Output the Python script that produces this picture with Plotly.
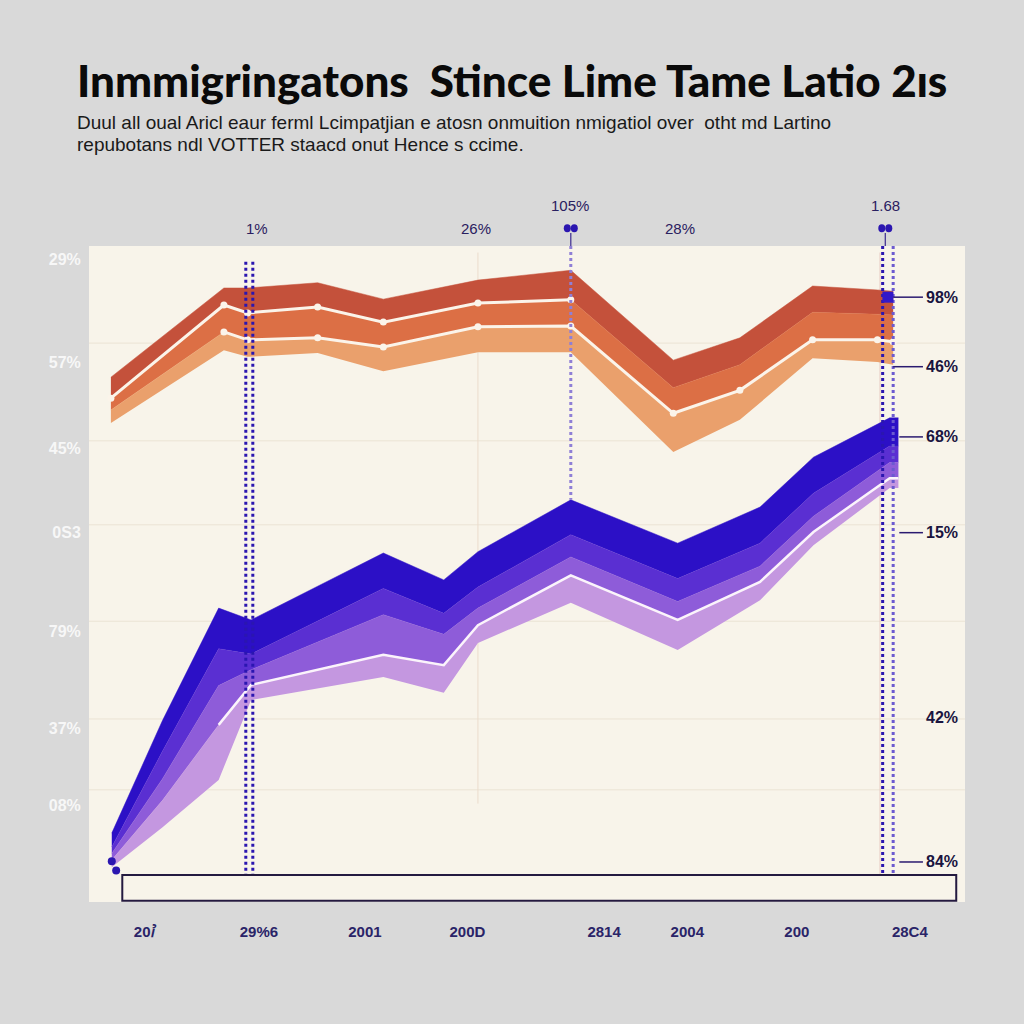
import plotly.graph_objects as go

# ---------------- data ----------------
title_text = "Inmmigringatons  Stince Lime Tame Latio 2ɪs"
subtitle_1 = "Duul all oual Aricl eaur ferml Lcimpatjian e atosn onmuition nmigatiol over  otht md Lartino"
subtitle_2 = "repubotans ndl VOTTER staacd onut Hence s ccime."

y_tick_vals = [98.0, 82.3, 69.1, 56.3, 41.3, 26.5, 14.8]
y_tick_text = ["29%", "57%", "45%", "0S3", "79%", "37%", "08%"]
grid_y = [85.2, 70.3, 57.5, 42.8, 27.9, 17.1]

x_tick_vals = [6.3, 19.4, 31.5, 43.2, 58.8, 68.3, 80.8, 93.7]
x_tick_text = ["20ꞽ", "29%6", "2001", "200D", "2814", "2004", "200", "28C4"]

# orange group
ox = [2.5, 15.4, 18.1, 26.1, 33.6, 44.4, 55.0, 66.7, 74.3, 82.6, 90.0, 91.8]
o_top = [80.0, 93.6, 93.6, 94.4, 91.9, 94.8, 96.3, 82.6, 86.0, 93.9, 93.3, 93.1]
o_b1 = [76.8, 91.0, 89.8, 90.7, 88.4, 91.3, 91.8, 78.4, 81.9, 89.9, 89.6, 89.5]
o_b2 = [75.0, 86.9, 85.7, 86.0, 84.6, 87.7, 87.8, 74.5, 78.0, 85.7, 85.7, 85.4]
o_bot = [73.0, 84.1, 83.1, 83.7, 80.9, 83.8, 83.8, 68.6, 73.5, 82.9, 82.3, 81.9]

# purple group
px_ = [2.6, 8.4, 14.8, 18.5, 33.6, 40.5, 44.4, 55.0, 67.2, 76.6, 82.7, 91.4, 92.4]
p_top = [10.5, 27.7, 44.8, 43.0, 53.2, 49.1, 53.4, 61.3, 54.7, 60.2, 67.8, 73.8, 73.8]
p_b1 = [8.4, 23.0, 38.6, 37.8, 47.8, 44.0, 48.0, 56.0, 49.3, 54.7, 62.3, 69.5, 69.5]
p_b2 = [7.4, 18.8, 33.0, 35.4, 43.8, 40.8, 44.8, 52.6, 45.8, 51.2, 58.8, 67.0, 67.0]
p_b3 = [6.4, 15.5, 27.0, 33.1, 37.7, 36.1, 42.2, 49.8, 43.0, 48.8, 56.4, 64.6, 64.6]
p_bot = [5.3, 11.4, 18.6, 30.8, 34.3, 31.9, 39.5, 45.6, 38.4, 46.0, 54.4, 63.1, 63.1]

top_labels = ["1%", "26%", "105%", "28%", "1.68"]
top_label_x = [19.2, 44.2, 54.9, 67.5, 90.9]
top_label_y = [1.027, 1.027, 1.062, 1.027, 1.062]
top_dot_x = [54.6, 55.4, 90.5, 91.3]

right_labels = ["98%", "46%", "68%", "15%", "42%", "84%"]
right_label_y = [92.2, 81.6, 70.9, 56.3, 28.2, 6.1]

fig = go.Figure()

def band(x, lo, hi, color):
    fig.add_trace(go.Scatter(x=x, y=lo, mode="lines", line=dict(width=0, color=color),
                             hoverinfo="skip", showlegend=False))
    fig.add_trace(go.Scatter(x=x, y=hi, mode="lines", line=dict(width=0.5, color=color),
                             fill="tonexty", fillcolor=color, hoverinfo="skip", showlegend=False))

band(ox, o_b1, o_top, "#c4513b")
band(ox, o_b2, o_b1, "#dc6f45")
band(ox, o_bot, o_b2, "#eaa06c")

band(px_, p_b1, p_top, "#2c10c6")
band(px_, p_b2, p_b1, "#5a2fd2")
band(px_, p_b3, p_b2, "#8e5cd9")
band(px_, p_bot, p_b3, "#c497e0")

fig.add_trace(go.Scatter(x=ox[:7], y=o_b1[:7], mode="lines+markers",
                         line=dict(color="#fbf4ea", width=3), marker=dict(size=7, color="#fbf4ea"),
                         showlegend=False, hoverinfo="skip"))
fig.add_trace(go.Scatter(x=ox[1:], y=o_b2[1:], mode="lines+markers",
                         line=dict(color="#fbf4ea", width=3), marker=dict(size=7, color="#fbf4ea"),
                         showlegend=False, hoverinfo="skip"))
fig.add_trace(go.Scatter(x=px_[2:], y=p_b3[2:], mode="lines",
                         line=dict(color="#fbf4fb", width=2.5),
                         showlegend=False, hoverinfo="skip"))

vlines = [
    ([17.9, 17.9], [97.6, 2.4], "#2b16b0"),
    ([18.7, 18.7], [97.6, 2.4], "#2b16b0"),
    ([55.0, 55.0], [100, 61.3], "#8f7fd6"),
    ([90.6, 90.6], [100, 2.4], "#2b16b0"),
    ([91.8, 91.8], [100, 2.4], "#6c5ad0"),
]
for vx, vy, c in vlines:
    fig.add_trace(go.Scatter(x=vx, y=vy, mode="lines", line=dict(color=c, width=3, dash="dot"),
                             showlegend=False, hoverinfo="skip"))

fig.add_trace(go.Scatter(x=[2.6, 3.1], y=[6.2, 4.8], mode="markers",
                         marker=dict(size=8, color="#2b16b0"), showlegend=False, hoverinfo="skip"))
fig.add_trace(go.Scatter(x=[91.2], y=[92.2], mode="markers",
                         marker=dict(size=11, symbol="square", color="#3318c8"),
                         showlegend=False, hoverinfo="skip"))

shapes = []
for gy in grid_y:
    shapes.append(dict(type="line", xref="paper", x0=0, x1=1, yref="y", y0=gy, y1=gy,
                       line=dict(color="#ebe3d4", width=1), layer="below"))
shapes.append(dict(type="line", xref="x", x0=44.4, x1=44.4, yref="y", y0=99, y1=15,
                   line=dict(color="#ebdccc", width=1), layer="below"))
shapes.append(dict(type="line", xref="x", x0=90.3, x1=90.3, yref="y", y0=99, y1=2,
                   line=dict(color="#e9c9c0", width=1), layer="below"))
shapes.append(dict(type="rect", xref="x", x0=3.8, x1=99.0, yref="y", y0=0.2, y1=4.1,
                   line=dict(color="#241a40", width=2), fillcolor="#f8f4ea"))
for ly, x0 in zip(right_label_y, [91.8, 91.8, 92.5, 92.5, 92.5, 92.5]):
    if ly == 28.2:
        continue
    shapes.append(dict(type="line", xref="x", x0=x0, x1=95.2, yref="y", y0=ly, y1=ly,
                       line=dict(color="#2a1a70", width=1.5)))
for dx in top_dot_x:
    shapes.append(dict(type="circle", xref="x", yref="paper", x0=dx - 0.4, x1=dx + 0.4,
                       y0=1.021, y1=1.033, fillcolor="#2b16b0", line=dict(width=0)))
for sx in [55.0, 90.9]:
    shapes.append(dict(type="line", xref="x", yref="paper", x0=sx, x1=sx, y0=1.0, y1=1.02,
                       line=dict(color="#3a2a90", width=1.2)))

annotations = [
    dict(text=title_text, xref="paper", yref="paper", x=-0.016, y=1.253, xanchor="left",
         yanchor="middle", showarrow=False,
         font=dict(family="Lato, DejaVu Sans", size=44, color="#0a0a0a", weight=900)),
    dict(text=subtitle_1, xref="paper", yref="paper", x=-0.016, y=1.189, xanchor="left",
         yanchor="middle", showarrow=False,
         font=dict(family="Liberation Sans Narrow, Liberation Sans", size=19, color="#1a1a1a")),
    dict(text=subtitle_2, xref="paper", yref="paper", x=-0.016, y=1.154, xanchor="left",
         yanchor="middle", showarrow=False,
         font=dict(family="Liberation Sans Narrow, Liberation Sans", size=19, color="#1a1a1a")),
]
for t, x, y in zip(top_labels, top_label_x, top_label_y):
    annotations.append(dict(text=t, x=x / 100.0, y=y, xref="paper", yref="paper", showarrow=False,
                            xanchor="center", yanchor="middle",
                            font=dict(family="Liberation Sans Narrow, Liberation Sans", size=15,
                                      color="#2a2060")))
for t, y in zip(right_labels, right_label_y):
    annotations.append(dict(text=t, x=97.4, y=y, xref="x", yref="y", showarrow=False,
                            xanchor="center",
                            font=dict(family="Liberation Sans", size=16, color="#1a1440", weight=700)))

fig.update_layout(
    width=1024, height=1024,
    margin=dict(l=89, r=59, t=246, b=122),
    paper_bgcolor="#d9d9d9", plot_bgcolor="#f8f4ea",
    showlegend=False,
    shapes=shapes, annotations=annotations,
    xaxis=dict(range=[0, 100], showgrid=False, zeroline=False, tickvals=x_tick_vals,
               ticktext=x_tick_text, ticks="outside", ticklen=16, tickcolor="rgba(0,0,0,0)",
               tickfont=dict(family="Liberation Sans Narrow, Liberation Sans", size=15,
                             color="#2a2468", weight=700)),
    yaxis=dict(range=[0, 100], showgrid=False, zeroline=False, tickvals=y_tick_vals,
               ticktext=y_tick_text, ticks="outside", ticklen=4, tickcolor="rgba(0,0,0,0)",
               tickfont=dict(family="Liberation Sans", size=16, color="#f7f7f7", weight=700)),
)

fig.write_html("out.html")
